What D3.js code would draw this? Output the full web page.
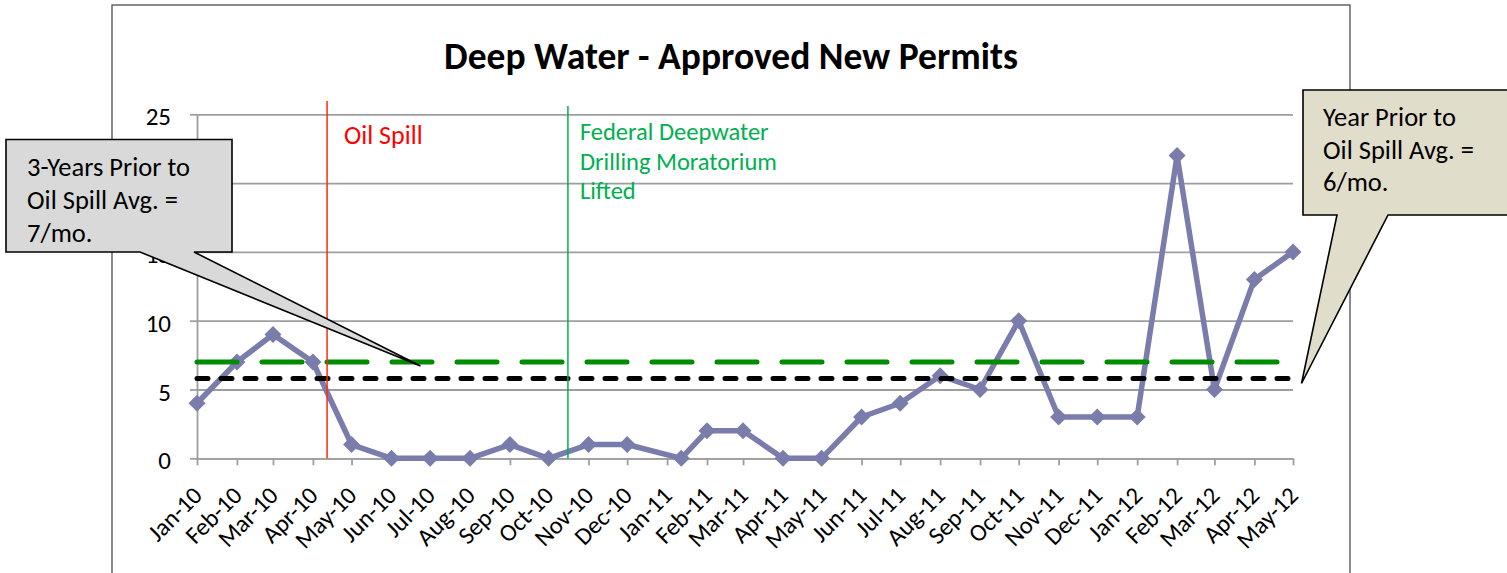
<!DOCTYPE html>
<html>
<head>
<meta charset="utf-8">
<script src="https://cdn.jsdelivr.net/npm/d3@7"></script>
<style>
  body { margin: 0; background: #fff; }
  svg { display: block; font-family: Calibri, Carlito, Lato, sans-serif; }
</style>
</head>
<body>
<div id="chart"></div>
<script>
// month tick labels (first of each month)
const months = ["Jan-10","Feb-10","Mar-10","Apr-10","May-10","Jun-10","Jul-10","Aug-10","Sep-10","Oct-10","Nov-10","Dec-10",
  "Jan-11","Feb-11","Mar-11","Apr-11","May-11","Jun-11","Jul-11","Aug-11","Sep-11","Oct-11","Nov-11","Dec-11",
  "Jan-12","Feb-12","Mar-12","Apr-12","May-12"];
// dates of each data point (Jan-11 value was posted mid month)
const pointDates = ["2010-01-01","2010-02-01","2010-03-01","2010-04-01","2010-05-01","2010-06-01","2010-07-01","2010-08-01","2010-09-01","2010-10-01","2010-11-01","2010-12-01",
  "2011-01-12","2011-02-01","2011-03-01","2011-04-01","2011-05-01","2011-06-01","2011-07-01","2011-08-01","2011-09-01","2011-10-01","2011-11-01","2011-12-01",
  "2012-01-01","2012-02-01","2012-03-01","2012-04-01","2012-05-01"];
const permits = [4,7,9,7,1,0,0,0,1,0,1,1, 0,2,2,0,0,3,4,6,5,10,3,3, 3,22,5,13,15];
const yTicks = [0,5,10,15,20,25];

const threeYearAvg = 7;
const yearAvg = 5.8;
const oilSpillDate = "2010-04-12";
const moratoriumDate = "2010-10-16";

const title = "Deep Water - Approved New Permits";
const leftNote = ["3-Years Prior to", "Oil Spill Avg. =", "7/mo."];
const rightNote = ["Year Prior to", "Oil Spill Avg. =", "6/mo."];
const moratoriumNote = ["Federal Deepwater", "Drilling Moratorium", "Lifted"];

const parse = d3.utcParse("%Y-%m-%d");
const monthDates = d3.utcMonths(parse("2010-01-01"), parse("2012-05-02"));
const data = pointDates.map((d, i) => ({ date: parse(d), value: permits[i] }));

const W = 1507, H = 573;
const x = d3.scaleUtc()
  .domain([parse("2010-01-01"), parse("2012-05-01")])
  .range([197, 1293]);
const y = d3.scaleLinear().domain([0, 25]).range([458.3, 114.3]);
const x0 = x.range()[0], x1 = x.range()[1];

const svg = d3.select("#chart").append("svg")
  .attr("width", W).attr("height", H);

// chart area border
svg.append("rect")
  .attr("x", 112).attr("y", 5)
  .attr("width", 1238).attr("height", 620)
  .attr("fill", "#fff").attr("stroke", "#4d4d4d").attr("stroke-width", 1.3);

svg.append("text")
  .attr("x", 731).attr("y", 69)
  .attr("text-anchor", "middle")
  .attr("font-size", 37.5).attr("font-weight", "bold")
  .text(title);

// gridlines
const grid = svg.append("g")
  .attr("transform", `translate(${x0},0)`)
  .call(d3.axisLeft(y).tickValues(yTicks).tickSize(-(x1 - x0)).tickFormat(""));
grid.select(".domain").remove();
grid.selectAll("line").attr("stroke", "#9e9e9e").attr("stroke-width", 1.8);

// y axis
const yAxis = svg.append("g")
  .attr("transform", `translate(${x0},0)`)
  .call(d3.axisLeft(y).tickValues(yTicks).tickSize(7).tickPadding(19).tickSizeOuter(0));
yAxis.select(".domain").attr("stroke", "#9e9e9e").attr("stroke-width", 1.8);
yAxis.selectAll("line").attr("stroke", "#9e9e9e").attr("stroke-width", 1.8);
yAxis.selectAll("text")
  .attr("font-size", 25).attr("font-family", "Calibri, Carlito, Lato, sans-serif")
  .attr("fill", "#000").attr("dy", 10.5);

// x axis (date axis, ticks on first of month)
const xAxis = svg.append("g")
  .attr("transform", `translate(0,${y(0)})`)
  .call(d3.axisBottom(x).tickValues(monthDates).tickSize(7).tickSizeOuter(0)
    .tickFormat((d, i) => months[i]));
xAxis.select(".domain").attr("stroke", "#9e9e9e").attr("stroke-width", 1.8);
xAxis.selectAll("line").attr("stroke", "#9e9e9e").attr("stroke-width", 1.8);
xAxis.selectAll("text")
  .attr("font-size", 24.5).attr("font-family", "Calibri, Carlito, Lato, sans-serif")
  .attr("fill", "#000")
  .attr("x", null).attr("y", null).attr("dy", null)
  .attr("text-anchor", "end")
  .attr("transform", `translate(6,${497 - y(0)}) rotate(-45)`);

// permits series
const line = d3.line().x(d => x(d.date)).y(d => y(d.value));
svg.append("path")
  .datum(data)
  .attr("d", line)
  .attr("fill", "none")
  .attr("stroke", "#7a7dac")
  .attr("stroke-width", 5.5)
  .attr("stroke-linejoin", "round");

svg.append("g").selectAll("path")
  .data(data)
  .join("path")
  .attr("d", "M0,-8.5L8.5,0L0,8.5L-8.5,0Z")
  .attr("transform", d => `translate(${x(d.date)},${y(d.value)})`)
  .attr("fill", "#7a7dac");

// average lines
svg.append("line")
  .attr("x1", x0).attr("x2", x1)
  .attr("y1", y(threeYearAvg)).attr("y2", y(threeYearAvg))
  .attr("stroke", "#008c00").attr("stroke-width", 5)
  .attr("stroke-linecap", "round")
  .attr("stroke-dasharray", "40 25");

svg.append("line")
  .attr("x1", x0).attr("x2", x1)
  .attr("y1", y(yearAvg)).attr("y2", y(yearAvg))
  .attr("stroke", "#000").attr("stroke-width", 5)
  .attr("stroke-linecap", "round")
  .attr("stroke-dasharray", "11 13");

// event markers
const spillX = x(parse(oilSpillDate));
svg.append("line")
  .attr("x1", spillX).attr("x2", spillX)
  .attr("y1", 101).attr("y2", y(0))
  .attr("stroke", "#ff2a0a").attr("stroke-width", 1.5);
svg.append("text")
  .attr("x", spillX + 17).attr("y", 144)
  .attr("font-size", 26).attr("fill", "#ff0000")
  .text("Oil Spill");

const morX = x(parse(moratoriumDate));
svg.append("line")
  .attr("x1", morX).attr("x2", morX)
  .attr("y1", 106).attr("y2", y(0))
  .attr("stroke", "#00b050").attr("stroke-width", 1.5);
svg.append("text")
  .attr("x", morX + 12).attr("y", 140)
  .attr("font-size", 24.5).attr("fill", "#00b050")
  .selectAll("tspan")
  .data(moratoriumNote)
  .join("tspan")
  .attr("x", morX + 12)
  .attr("dy", (d, i) => i ? 29.5 : 0)
  .text(d => d);

// callouts
function callout(pathD, fill, lines, tx, ty, lh) {
  svg.append("path")
    .attr("d", pathD)
    .attr("fill", fill)
    .attr("stroke", "#000")
    .attr("stroke-width", 1.6)
    .attr("stroke-linejoin", "miter");
  svg.append("text")
    .attr("x", tx).attr("y", ty)
    .attr("font-size", 26.5).attr("fill", "#000")
    .selectAll("tspan")
    .data(lines)
    .join("tspan")
    .attr("x", tx)
    .attr("dy", (d, i) => i ? lh : 0)
    .text(d => d);
}

const tipL = [420.5, y(threeYearAvg) + 4];
callout(`M6,139.5H232V252H194L${tipL[0]},${tipL[1]}L140,252H6Z`, "#d9d9d9", leftNote, 27, 176, 33);

const tipR = [1301.5, y(yearAvg) + 5];
callout(`M1303,90H1520V215H1388L${tipR[0]},${tipR[1]}L1337,215H1303Z`, "#e1ddcb", rightNote, 1323, 126, 32.5);
</script>
</body>
</html>
